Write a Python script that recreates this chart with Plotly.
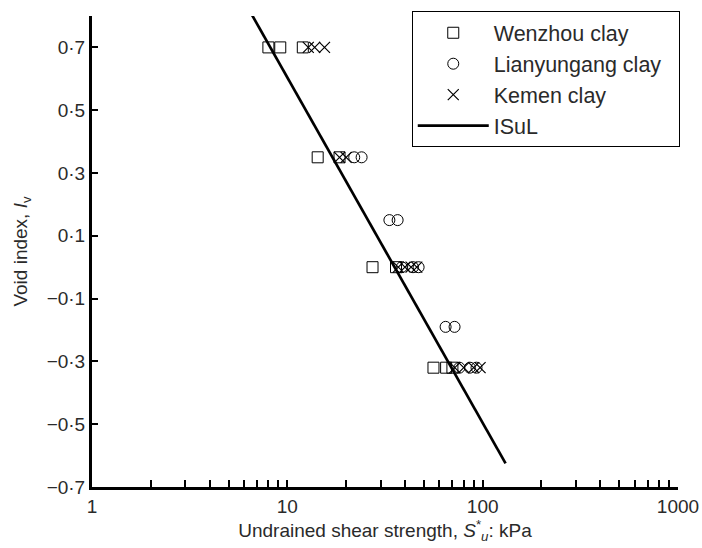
import plotly.graph_objects as go

# Data
wenzhou_x = [8.0, 9.2, 12.0, 14.3, 18.5, 27.3, 36.0, 56.0, 65.0, 70.0]
wenzhou_y = [0.70, 0.70, 0.70, 0.35, 0.35, 0.00, 0.00, -0.32, -0.32, -0.32]

lian_x = [22.0, 24.0, 33.3, 36.7, 38.5, 44.0, 47.0, 64.6, 71.8, 76.0, 86.0, 93.0]
lian_y = [0.35, 0.35, 0.15, 0.15, 0.00, 0.00, 0.00, -0.19, -0.19, -0.32, -0.32, -0.32]

kemen_x = [12.8, 13.8, 15.5, 18.5, 20.0, 37.0, 40.0, 43.0, 46.0, 72.0, 80.0, 90.0, 97.0]
kemen_y = [0.70, 0.70, 0.70, 0.35, 0.35, 0.00, 0.00, 0.00, 0.00, -0.32, -0.32, -0.32, -0.32]

isul_x = [6.3, 131.0]
isul_y = [0.825, -0.625]

y_ticks = [0.7, 0.5, 0.3, 0.1, -0.1, -0.3, -0.5, -0.7]
y_labels = ["0·7", "0·5", "0·3", "0·1", "−0·1", "−0·3", "−0·5", "−0·7"]

x_major = [1, 10, 100, 1000]
x_all = [m * d for d in [1, 10, 100] for m in range(1, 10)] + [1000]
x_labels = [str(v) if v in x_major else "" for v in x_all]

txt = "#2a2a2a"
font = "Liberation Sans, Arial, sans-serif"
pad = "\u00a0\u00a0"

fig = go.Figure()
fig.add_trace(go.Scatter(x=wenzhou_x, y=wenzhou_y, mode="markers", name="Wenzhou clay" + pad,
                         marker=dict(symbol="square-open", size=11, color="black", line=dict(width=1))))
fig.add_trace(go.Scatter(x=lian_x, y=lian_y, mode="markers", name="Lianyungang clay" + pad,
                         marker=dict(symbol="circle-open", size=11, color="black", line=dict(width=1))))
fig.add_trace(go.Scatter(x=kemen_x, y=kemen_y, mode="markers", name="Kemen clay" + pad,
                         marker=dict(symbol="x-thin-open", size=11, color="black", line=dict(width=1.2))))
fig.add_trace(go.Scatter(x=isul_x, y=isul_y, mode="lines", name="ISuL" + pad,
                         line=dict(color="black", width=2.7)))

fig.update_layout(
    width=702, height=548,
    margin=dict(l=92, r=24, t=16, b=61, autoexpand=False),
    paper_bgcolor="white", plot_bgcolor="white",
    font=dict(family=font, size=18, color=txt),
    showlegend=True,
    legend=dict(x=1.003, y=1.01, xanchor="right", yanchor="top",
                bordercolor="black", borderwidth=1, bgcolor="white",
                font=dict(size=21.5, color=txt), itemwidth=71,
                tracegroupgap=0),
)
fig.update_xaxes(
    type="log", range=[0, 3], automargin=False,
    tickvals=x_all, ticktext=x_labels,
    ticks="inside", ticklen=7, tickwidth=2, tickcolor="black",
    showline=True, linecolor="black", linewidth=3,
    showgrid=False, zeroline=False,
    tickfont=dict(size=19, color=txt),
    title=dict(text="Undrained shear strength, <i>S</i><sup>*</sup><sub><i>u</i></sub>: kPa",
               font=dict(size=19, color=txt), standoff=2),
)
fig.update_yaxes(
    range=[-0.7, 0.8], automargin=False,
    tickvals=y_ticks, ticktext=y_labels,
    ticks="inside", ticklen=6, tickwidth=2, tickcolor="black",
    minor=dict(tickvals=[0.8], ticks="inside", ticklen=6, tickwidth=2, tickcolor="black"),
    showline=True, linecolor="black", linewidth=3,
    showgrid=False, zeroline=False,
    tickfont=dict(size=19, color=txt),
    title=dict(text="Void index, <i>I</i><sub>v</sub>", font=dict(size=19, color=txt), standoff=14),
)

fig.write_html("out.html", config={"displayModeBar": False})

# remove the default page margin so the figure sits at the window's corner
with open("out.html", "r", encoding="utf-8") as f:
    html = f.read()
html = html.replace("<head>", "<head><style>body{margin:0;padding:0;overflow:hidden;}</style>", 1)
with open("out.html", "w", encoding="utf-8") as f:
    f.write(html)
